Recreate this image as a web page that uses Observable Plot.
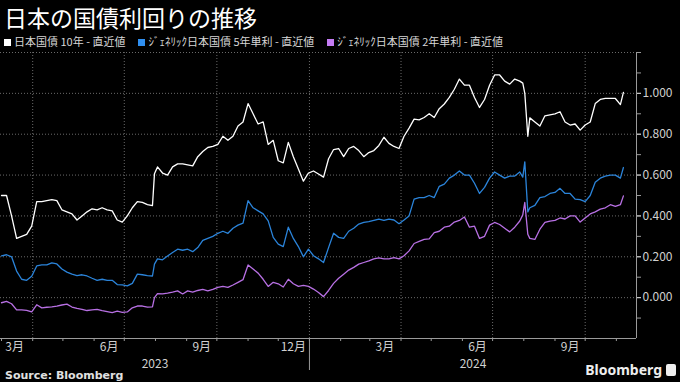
<!DOCTYPE html>
<html><head><meta charset="utf-8">
<script src="https://cdn.jsdelivr.net/npm/d3@7"></script>
<script src="https://cdn.jsdelivr.net/npm/@observablehq/plot@0.6"></script>
<style>
html,body{margin:0;padding:0;background:#000;}
#wrap{position:relative;width:680px;height:382px;background:#000;overflow:hidden;font-family:"Noto Sans CJK JP","Noto Sans",sans-serif;color:#d6d6d6;}
#title{position:absolute;left:4px;top:3px;font-size:23px;line-height:29px;color:#fff;white-space:nowrap;}
#legend{position:absolute;left:4px;top:34px;font-size:11px;line-height:15px;display:flex;gap:13px;white-space:nowrap;color:#d6d6d6;}
#legend .sw{display:inline-block;width:7px;height:7px;margin-right:3px;vertical-align:0px;}
#chart{position:absolute;left:0;top:50px;}
#source{position:absolute;left:5px;top:369px;font-size:11px;line-height:13px;font-weight:bold;color:#e0e0e0;font-family:"DejaVu Sans","Noto Sans",sans-serif;}
#brand{position:absolute;right:4px;top:362px;font-size:14px;line-height:16px;font-weight:bold;color:#eee;font-family:"Noto Sans",sans-serif;display:flex;align-items:center;gap:4px;}
#brand .ic{display:inline-block;width:10px;height:12px;background:#eee;border-radius:2px;}
</style></head>
<body>
<div id="wrap">
  <div id="title">日本の国債利回りの推移</div>
  <div id="legend"></div>
  <div id="chart"></div>
  <div id="source">Source: Bloomberg</div>
  <div id="brand"><span>Bloomberg</span><span class="ic"></span></div>
</div>
<script>
const dates = [
"2023-03-01","2023-03-06","2023-03-11","2023-03-16","2023-03-21","2023-03-26","2023-03-31",
"2023-04-05","2023-04-10","2023-04-15","2023-04-20","2023-04-25","2023-04-30",
"2023-05-05","2023-05-10","2023-05-15","2023-05-20","2023-05-25","2023-05-30",
"2023-06-04","2023-06-09","2023-06-14","2023-06-19","2023-06-24","2023-06-29",
"2023-07-04","2023-07-09","2023-07-14","2023-07-19","2023-07-24","2023-07-29","2023-07-31",
"2023-08-03","2023-08-08","2023-08-13","2023-08-18","2023-08-23","2023-08-28",
"2023-09-02","2023-09-07","2023-09-12","2023-09-17","2023-09-22","2023-09-27",
"2023-10-02","2023-10-07","2023-10-12","2023-10-17","2023-10-22","2023-10-27",
"2023-11-01","2023-11-06","2023-11-11","2023-11-16","2023-11-21","2023-11-26",
"2023-12-01","2023-12-06","2023-12-11","2023-12-16","2023-12-21","2023-12-26","2023-12-31",
"2024-01-05","2024-01-10","2024-01-15","2024-01-20","2024-01-25","2024-01-30",
"2024-02-04","2024-02-09","2024-02-14","2024-02-19","2024-02-24","2024-02-29",
"2024-03-05","2024-03-10","2024-03-15","2024-03-20","2024-03-25","2024-03-30",
"2024-04-04","2024-04-09","2024-04-14","2024-04-19","2024-04-24","2024-04-29",
"2024-05-04","2024-05-09","2024-05-14","2024-05-19","2024-05-24","2024-05-29",
"2024-06-03","2024-06-08","2024-06-13","2024-06-18","2024-06-23","2024-06-28",
"2024-07-03","2024-07-08","2024-07-13","2024-07-18","2024-07-23","2024-07-28","2024-07-31",
"2024-08-02","2024-08-05","2024-08-07","2024-08-12","2024-08-17","2024-08-22","2024-08-27",
"2024-09-01","2024-09-06","2024-09-11","2024-09-16","2024-09-21","2024-09-26",
"2024-10-01","2024-10-06","2024-10-11","2024-10-16","2024-10-21","2024-10-26","2024-10-31",
"2024-11-05","2024-11-08"
];

const jgb10 = [
0.50,0.50,0.40,0.29,0.30,0.31,0.35,
0.47,0.47,0.475,0.48,0.475,0.43,
0.42,0.41,0.38,0.40,0.42,0.435,
0.43,0.44,0.43,0.425,0.38,0.37,
0.40,0.44,0.47,0.466,0.455,0.45,0.606,
0.64,0.61,0.60,0.64,0.655,0.655,
0.65,0.645,0.69,0.715,0.735,0.74,
0.75,0.79,0.77,0.79,0.84,0.86,
0.95,0.90,0.85,0.86,0.75,0.77,
0.67,0.66,0.76,0.69,0.63,0.57,0.61,
0.62,0.605,0.59,0.68,0.725,0.73,
0.69,0.73,0.74,0.72,0.69,0.71,
0.72,0.745,0.785,0.755,0.74,0.73,
0.79,0.83,0.874,0.87,0.882,0.90,
0.882,0.925,0.948,0.98,1.02,1.07,
1.04,1.04,0.98,0.931,0.97,1.04,
1.09,1.09,1.06,1.045,1.07,1.06,1.05,
1.00,0.79,0.88,0.86,0.84,0.89,0.895,
0.90,0.91,0.86,0.845,0.85,0.82,
0.845,0.86,0.95,0.97,0.975,0.975,0.975,
0.945,1.005
];

const jgb5 = [
0.205,0.21,0.20,0.13,0.09,0.085,0.105,
0.155,0.16,0.16,0.17,0.165,0.14,
0.125,0.115,0.108,0.112,0.106,0.095,
0.085,0.09,0.085,0.085,0.064,0.062,
0.058,0.07,0.115,0.112,0.108,0.106,0.164,
0.19,0.185,0.204,0.221,0.237,0.232,
0.237,0.225,0.245,0.28,0.29,0.30,
0.315,0.325,0.315,0.34,0.355,0.365,
0.475,0.44,0.425,0.41,0.376,0.295,
0.262,0.25,0.345,0.29,0.25,0.20,0.237,
0.205,0.19,0.172,0.245,0.315,0.295,
0.29,0.325,0.34,0.36,0.368,0.372,
0.378,0.384,0.378,0.384,0.38,0.362,
0.38,0.40,0.482,0.49,0.49,0.50,
0.49,0.545,0.556,0.585,0.60,0.62,
0.60,0.60,0.56,0.51,0.54,0.585,
0.615,0.60,0.585,0.595,0.595,0.615,0.59,
0.665,0.42,0.44,0.452,0.49,0.495,0.51,
0.515,0.535,0.51,0.51,0.482,0.48,
0.47,0.50,0.565,0.585,0.595,0.60,0.60,
0.585,0.637
];

const jgb2 = [
-0.025,-0.018,-0.03,-0.06,-0.06,-0.062,-0.07,
-0.035,-0.05,-0.047,-0.045,-0.042,-0.036,
-0.032,-0.046,-0.053,-0.057,-0.063,-0.06,
-0.057,-0.063,-0.068,-0.073,-0.066,-0.072,
-0.07,-0.05,-0.041,-0.041,-0.046,-0.045,0.0,
0.02,0.018,0.022,0.027,0.033,0.018,
0.033,0.027,0.035,0.04,0.033,0.04,
0.05,0.055,0.05,0.062,0.075,0.088,
0.16,0.14,0.12,0.09,0.055,0.075,
0.068,0.052,0.09,0.068,0.055,0.06,0.055,
0.042,0.025,0.005,0.035,0.07,0.095,
0.115,0.135,0.148,0.164,0.172,0.18,
0.19,0.195,0.19,0.19,0.196,0.19,
0.205,0.229,0.265,0.275,0.285,0.288,
0.318,0.325,0.345,0.35,0.37,0.378,
0.395,0.345,0.35,0.29,0.30,0.355,
0.368,0.358,0.34,0.322,0.345,0.375,0.405,
0.466,0.31,0.29,0.285,0.335,0.368,0.375,
0.378,0.39,0.385,0.40,0.40,0.37,
0.39,0.41,0.42,0.433,0.44,0.455,0.447,
0.455,0.498
];

const seriesNames = ["日本国債 10年 - 直近値", "ｼﾞｪﾈﾘｯｸ日本国債 5年単利 - 直近値", "ｼﾞｪﾈﾘｯｸ日本国債 2年単利 - 直近値"];
const seriesColors = ["#ffffff", "#2b84da", "#b870e4"];
const legendSwatch = ["#ffffff", "#2f8ff0", "#c47cf4"];
const yLabelTicks = [0, 0.2, 0.4, 0.6, 0.8, 1.0];
const yGrid = [0, 0.2, 0.4, 0.6, 0.8, 1.0, 1.2];
const yMinorTicks = [-0.1, 0, 0.1, 0.2, 0.3, 0.4, 0.5, 0.6, 0.7, 0.8, 0.9, 1.0, 1.1, 1.2];
const monthLabelDates = ["2023-03-14","2023-06-16","2023-09-16","2023-12-16","2024-03-16","2024-06-16","2024-09-16"];
const monthLabels = ["3月","6月","9月","12月","3月","6月","9月"];
const yearLabels = ["2023","2024"];
const xDomain = [new Date("2023-02-28"), new Date("2024-11-21")];

// legend
const leg = document.getElementById("legend");
seriesNames.forEach((n, i) => {
  const it = document.createElement("span");
  it.innerHTML = `<span class="sw" style="background:${legendSwatch[i]}"></span>${n}`;
  leg.appendChild(it);
});

const rows = [];
const vals = [jgb10, jgb5, jgb2];
[2, 1, 0].forEach(k => dates.forEach((d, i) => rows.push({date: new Date(d), value: vals[k][i], series: seriesNames[k]})));

const monthStarts = d3.utcMonth.range(new Date("2023-03-01"), xDomain[1]);
const quarterStarts = monthStarts.filter(d => d.getUTCMonth() % 3 === 0);
const monthLab = monthLabelDates.map((d, i) => ({date: new Date(d), label: monthLabels[i]}));
const yearLab = yearLabels.map(y => {
  const s = new Date(Math.max(+xDomain[0], Date.UTC(+y, 0, 1)));
  const e = new Date(Math.min(+xDomain[1], Date.UTC(+y + 1, 0, 1)));
  return {date: new Date((+s + +e) / 2), label: y};
});

const chart = Plot.plot({
  width: 680, height: 322,
  marginLeft: 0, marginRight: 44, marginTop: 2, marginBottom: 34,
  style: {background: "#000", color: "#d0d0d0", fontFamily: "'Noto Sans CJK JP','Noto Sans',sans-serif", fontSize: "12px"},
  x: {type: "utc", domain: xDomain, label: null},
  y: {domain: [-0.2, 1.2], label: null},
  color: {domain: seriesNames, range: seriesColors},
  marks: [
    Plot.ruleY(yGrid, {stroke: "#6a6a6a", strokeDasharray: "1,2"}),
    Plot.ruleX(quarterStarts, {stroke: "#6a6a6a", strokeDasharray: "1,2"}),
    Plot.line(rows, {x: "date", y: "value", z: "series", stroke: "series", strokeWidth: 1.3}),
    Plot.ruleY([-0.2], {stroke: "#9a9a9a"}),
    Plot.ruleX([xDomain[1]], {stroke: "#9a9a9a"}),
    Plot.axisY({anchor: "right", ticks: yMinorTicks, tickSize: 4, tickFormat: () => "", stroke: "#9a9a9a"}),
    Plot.axisY({anchor: "right", ticks: yLabelTicks, tickSize: 4, tickPadding: 2, tickFormat: d3.format(".3f"), fontSize: 12, label: null}),
    Plot.axisX({ticks: monthStarts, tickSize: 3, tickFormat: () => "", stroke: "#9a9a9a", label: null}),
    Plot.ruleX([new Date("2024-01-01")], {stroke: "#9a9a9a", insetTop: 286, insetBottom: -32}),
    Plot.text(monthLab, {x: "date", text: "label", frameAnchor: "bottom", dy: 9, lineAnchor: "middle", fill: "#d0d0d0", fontSize: 12}),
    Plot.text(yearLab, {x: "date", text: "label", frameAnchor: "bottom", dy: 26, lineAnchor: "middle", fill: "#d0d0d0", fontSize: 12})
  ]
});
document.getElementById("chart").appendChild(chart);
</script>
</body></html>
